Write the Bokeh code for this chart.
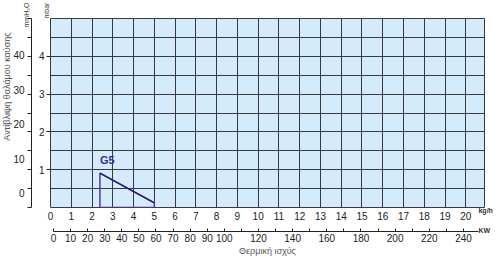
import math
from bokeh.plotting import figure
from bokeh.models import (LinearAxis, Range1d, FixedTicker, Label)
from bokeh.embed import file_html
from bokeh.resources import INLINE

# ---------------- data ----------------
kgh_ticks = list(range(0, 21))                      # kg/h
kw_ticks = [0, 10, 20, 30, 40, 50, 60, 70, 80, 90, 100,
            120, 140, 160, 180, 200, 220, 240]      # kW
kw_minor = [110, 130, 150, 170, 190, 210, 230]
mbar_ticks = [1, 2, 3, 4]                           # mbar
mm_ticks = [0, 10, 20, 30, 40]                      # mmH2O
half_mbar = [0, 0.5, 1, 1.5, 2, 2.5, 3, 3.5, 4, 4.5, 5]

g5_x = [2.38, 2.38, 5.0, 5.0, 2.38]                 # kg/h
g5_y = [0.0, 0.91, 0.12, 0.0, 0.0]                  # mbar

FONT = "Liberation Sans"
TXT = "#222222"
GRID = "#3a3a3a"

p = figure(width=500, height=260, output_backend="svg", toolbar_location=None,
           x_range=Range1d(0, 20.9), y_range=Range1d(0, 5),
           min_border_left=49, min_border_right=16, min_border_top=18,
           min_border_bottom=53)
p.border_fill_color = "white"
p.outline_line_color = GRID
p.outline_line_width = 1
p.background_fill_color = "#d3ebfb"

p.extra_x_ranges = {"kw": Range1d(-1.75, 252.3)}
p.extra_y_ranges = {"mm": Range1d(-4.06, 50.7)}

# grid
p.xgrid.ticker = FixedTicker(ticks=kgh_ticks)
p.ygrid.ticker = FixedTicker(ticks=half_mbar)
for g in (p.xgrid[0], p.ygrid[0]):
    g.grid_line_color = GRID
    g.grid_line_width = 1
    g.grid_line_alpha = 1


def spacer(size, tick, **kw):
    """An invisible axis that only reserves `size` pixels."""
    return LinearAxis(ticker=FixedTicker(ticks=[tick]), axis_line_color=None,
                      major_tick_out=size, major_tick_in=0, minor_tick_out=0,
                      minor_tick_in=0, major_tick_line_color=None,
                      major_label_standoff=0, major_label_text_font_size="0px",
                      major_label_overrides={tick: ""}, **kw)


# ---- left: mbar (inner) ----
ya = p.yaxis[0]
ya.ticker = FixedTicker(ticks=mbar_ticks)
ya.axis_line_color = None
ya.major_tick_out = 4
ya.major_tick_in = 0
ya.minor_tick_out = 0
ya.minor_tick_in = 0
ya.major_tick_line_color = "#222222"
ya.major_label_standoff = 2
ya.major_label_text_font = FONT
ya.major_label_text_font_size = "10px"
ya.major_label_text_color = TXT

p.add_layout(spacer(4, 2.5), "left")

line_ax = LinearAxis(ticker=FixedTicker(ticks=half_mbar), axis_line_color="#222222",
                     axis_line_width=1, major_tick_out=4, major_tick_in=0,
                     minor_tick_out=0, major_tick_line_color="#222222",
                     major_label_text_font_size="0px", major_label_standoff=0)
line_ax.major_label_overrides = {v: "" for v in half_mbar}
p.add_layout(line_ax, "left")

mm_ax = LinearAxis(y_range_name="mm", ticker=FixedTicker(ticks=mm_ticks),
                   axis_line_color=None, major_tick_out=0, major_tick_in=0,
                   minor_tick_out=0, major_tick_line_color=None,
                   major_label_standoff=3, major_label_text_font=FONT,
                   major_label_text_font_size="10px", major_label_text_color=TXT)
p.add_layout(mm_ax, "left")

# ---- bottom: kg/h (inner) ----
xa = p.xaxis[0]
xa.ticker = FixedTicker(ticks=kgh_ticks)
xa.axis_line_color = None
xa.major_tick_out = 0
xa.major_tick_in = 0
xa.minor_tick_out = 0
xa.major_tick_line_color = None
xa.major_label_standoff = 4
xa.major_label_text_font = FONT
xa.major_label_text_font_size = "10px"
xa.major_label_text_color = TXT

p.add_layout(spacer(9, 10), "below")

kw_ax = LinearAxis(x_range_name="kw",
                   ticker=FixedTicker(ticks=kw_ticks, minor_ticks=kw_minor),
                   bounds=(0, 249),
                   axis_line_color="#222222", axis_line_width=1,
                   major_tick_out=0, major_tick_in=3, minor_tick_out=0,
                   minor_tick_in=3, major_tick_line_color="#222222",
                   minor_tick_line_color="#222222",
                   major_label_standoff=2, major_label_text_font=FONT,
                   major_label_text_font_size="10px", major_label_text_color=TXT,
                   axis_label="Θερμική ισχύς", axis_label_standoff=1,
                   axis_label_text_font="Liberation Sans",
                   axis_label_text_font_style="normal",
                   axis_label_text_font_size="9px",
                   axis_label_text_color="#555555")
p.add_layout(kw_ax, "below")

# ---- G5 curve ----
p.line(g5_x, g5_y, line_color="#5a2fb0", line_width=1.5)
p.line(g5_x[1:3], g5_y[1:3], line_color="#2a1f72", line_width=1.5)

# ---- texts ----
p.add_layout(Label(x=2.38, y=1.1, text="G5", text_font="Liberation Sans",
                   text_font_style="bold", text_font_size="11px",
                   text_color="#3d2f8c", text_baseline="bottom"))
# unit texts (placed in side panels so they are not clipped by the frame)
p.add_layout(Label(x=20.61, y=0.02, text="kg/h", text_font="Liberation Sans",
                   text_font_style="bold", text_font_size="7px",
                   text_color="#333333", text_baseline="top"), "above")
p.add_layout(Label(x=20.61, y=-0.52, text="KW", text_font="Liberation Sans",
                   text_font_style="bold", text_font_size="7px",
                   text_color="#333333", text_baseline="top"), "above")
p.add_layout(Label(x=-0.19, y=5.42, text="mbar", angle=math.pi / 2,
                   text_font="Liberation Sans", text_font_size="7px",
                   text_color="#333333", text_align="right",
                   text_baseline="middle"), "right")
p.add_layout(Label(x=-1.15, y=5.42, text="mmH₂O", angle=math.pi / 2,
                   text_font="Liberation Sans", text_font_size="7px",
                   text_color="#333333", text_align="right",
                   text_baseline="middle"), "right")
p.add_layout(Label(x=-2.11, y=3.2, text="Αντίβλιψη θαλάμου καύσης",
                   angle=math.pi / 2, text_font="Liberation Sans",
                   text_font_size="9px", text_color="#555555",
                   text_align="center", text_baseline="middle"), "left")

open("out.html", "w").write(file_html(p, INLINE))
